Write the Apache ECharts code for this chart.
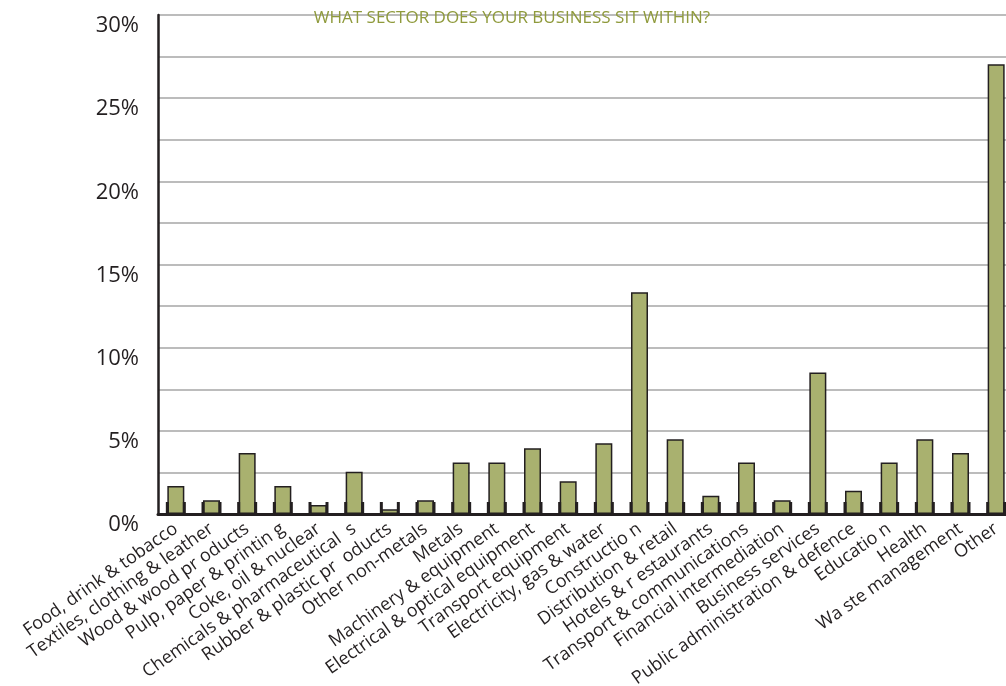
<!DOCTYPE html>
<html>
<head>
<meta charset="utf-8">
<script src="https://cdn.jsdelivr.net/npm/echarts@6/dist/echarts.min.js"></script>
<style>
html,body{margin:0;padding:0;background:#fff;}
#chart{width:1006px;height:686px;}
</style>
</head>
<body>
<div id="chart"></div>
<script>
const titleText = "WHAT SECTOR DOES YOUR BUSINESS SIT WITHIN?";
const categories = [
  "Food, drink & tobacco",
  "Textiles, clothing & leather",
  "Wood & wood pr oducts",
  "Pulp, paper & printin g",
  "Coke, oil & nuclear",
  "Chemicals & pharmaceutical  s",
  "Rubber & plastic pr  oducts",
  "Other non-metals",
  "Metals",
  "Machinery & equipment",
  "Electrical & optical equipment",
  "Transport equipment",
  "Electricity, gas & water",
  "Constructio n",
  "Distribution & retail",
  "Hotels & r estaurants",
  "Transport & communications",
  "Financial intermediation",
  "Business services",
  "Public administration & defence",
  "Educatio n",
  "Health",
  "Wa ste management",
  "Other"
];
const shares = [1.68, 0.82, 3.67, 1.68, 0.54, 2.54, 0.28, 0.82, 3.1, 3.1, 3.95, 1.97, 4.25, 13.33, 4.5, 1.1, 3.1, 0.82, 8.5, 1.4, 3.1, 4.5, 3.67, 27.04];
const yTicks = [0, 5, 10, 15, 20, 25, 30];

const chart = echarts.init(document.getElementById('chart'));
const BAR_W = 17;
chart.setOption({
  animation: false,
  title: {
    text: titleText,
    left: 507,
    textAlign: 'center',
    top: 5,
    textStyle: {fontFamily: 'Open Sans', fontWeight: 'normal', fontSize: 17, color: '#8f9a3c'}
  },
  grid: {left: 158, right: -8, top: 15, bottom: 172, containLabel: false, outerBoundsMode: 'none'},
  xAxis: {
    type: 'category',
    data: categories,
    boundaryGap: true,
    axisLine: {lineStyle: {color: '#231f20', width: 3}},
    axisTick: {show: false},
    axisLabel: {
      interval: 0,
      rotate: 35,
      margin: 13,
      fontFamily: 'Open Sans',
      fontSize: 18,
      color: '#231f20'
    }
  },
  yAxis: {
    type: 'value',
    min: 0,
    max: 30,
    interval: 2.5,
    axisLine: {show: true, lineStyle: {color: '#231f20', width: 2.5}},
    axisTick: {show: false},
    splitLine: {lineStyle: {color: '#a6a6a6', width: 1.5}},
    axisLabel: {
      margin: 19,
      fontFamily: 'Open Sans',
      fontSize: 22,
      color: '#231f20',
      verticalAlign: 'top',
      formatter: v => yTicks.includes(v) ? v + '%' : ''
    }
  },
  series: [
    {
      type: 'bar',
      data: shares,
      barWidth: BAR_W,
      itemStyle: {color: '#a9b16f', borderColor: '#231f20', borderWidth: 1.5},
      z: 2
    },
    {
      type: 'custom',
      data: shares.map((v, i) => [i, 0]),
      z: 3,
      renderItem: function (params, api) {
        const p = api.coord([api.value(0), 0]);
        const h = 12;
        const mk = (x) => ({
          type: 'rect',
          shape: {x: x - 1.5, y: p[1] - h, width: 3, height: h},
          style: {fill: '#231f20'}
        });
        return {type: 'group', children: [mk(p[0] - BAR_W / 2), mk(p[0] + BAR_W / 2)]};
      }
    }
  ]
});
</script>
</body>
</html>
